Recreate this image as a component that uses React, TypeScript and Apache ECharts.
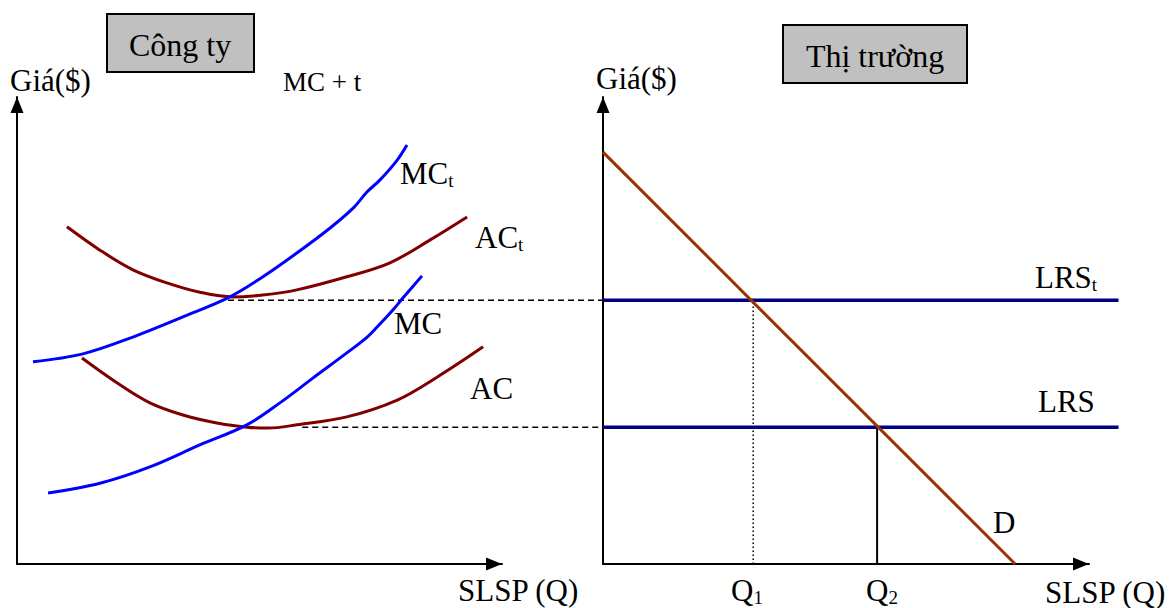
import { useEffect, useRef } from "react";
import * as echarts from "echarts";

// ---- Left panel (Công ty): quantity 0..100, price 0..100 ----
const MC_TAX: [number, number][] = [
  [3.3, 43.3], [13.6, 45.0], [23.9, 48.6], [34.2, 52.9], [43.9, 57.2],
  [50.7, 61.5], [57.7, 66.6], [64.5, 71.9], [69.3, 76.2], [72.2, 79.7],
  [74.8, 82.2], [78.4, 86.5], [80.4, 89.7],
];
const AC_TAX: [number, number][] = [
  [10.3, 72.2], [17.1, 67.2], [23.9, 63.0], [30.9, 60.2], [37.7, 58.2],
  [44.5, 57.2], [50.7, 57.6], [57.7, 58.7], [68.0, 61.5], [76.9, 64.5],
  [85.2, 69.4], [92.8, 74.3],
];
const MC: [number, number][] = [
  [6.4, 15.2], [17.1, 17.3], [27.4, 20.8], [37.7, 25.5], [47.4, 29.8],
  [54.2, 34.5], [61.0, 39.8], [68.0, 45.2], [72.2, 48.6], [74.2, 50.7],
  [77.5, 54.4], [79.6, 57.0], [83.5, 61.7],
];
const AC: [number, number][] = [
  [13.4, 44.1], [20.6, 38.8], [27.4, 34.5], [34.2, 31.9], [41.2, 30.2],
  [47.4, 29.3], [51.8, 29.1], [57.7, 29.8], [68.0, 31.5], [78.4, 35.1],
  [86.6, 40.0], [96.1, 46.5],
];

// price levels shared by both panels
const PRICE_TAX = 56.5;
const PRICE = 29.3;
// dashed guide lines (left-panel quantity units; they run over to the market axis)
const GUIDE_TAX_FROM = 43.5;
const GUIDE_FROM = 58.8;
const GUIDE_TO = 120.8;

// ---- Right panel (Thị trường) ----
const DEMAND: [number, number][] = [[0, 88.2], [84.8, 0]];
const Q1 = 30.9;
const Q2 = 56.4;
const LRS_TO = 106.1;

const FONT = "'Liberation Serif', 'Times New Roman', serif";

export default function App() {
  const ref = useRef<HTMLDivElement>(null);

  useEffect(() => {
    if (!ref.current) return;
    const chart = echarts.init(ref.current, null, { renderer: "svg" });

    const axisLine = {
      show: true,
      onZero: false,
      symbol: ["none", "triangle"],
      symbolSize: [13, 16],
      symbolOffset: [0, -8],
      lineStyle: { color: "#000", width: 2 },
    };
    const visibleAxis = (gridIndex: number) => ({
      type: "value",
      gridIndex,
      min: 0,
      max: 100,
      axisLine,
      axisTick: { show: false },
      axisLabel: { show: false },
      splitLine: { show: false },
    });
    const hiddenAxis = (gridIndex: number, max: number) => ({
      type: "value",
      gridIndex,
      min: 0,
      max,
      show: false,
      splitLine: { show: false },
    });

    const curve = (data: [number, number][], color: string, xi: number) => ({
      type: "line",
      xAxisIndex: xi,
      yAxisIndex: xi,
      data,
      smooth: 0.35,
      showSymbol: false,
      silent: true,
      lineStyle: { color, width: 3 },
    });
    const straight = (
      data: [number, number][],
      color: string,
      width: number,
      type: any,
      xi: number,
      z = 2
    ) => ({
      type: "line",
      xAxisIndex: xi,
      yAxisIndex: xi,
      data,
      showSymbol: false,
      silent: true,
      z,
      lineStyle: { color, width, type },
    });

    const txt = (x: number, y: number, text: string, size = 31, align = "left") => ({
      type: "text",
      x,
      y,
      silent: true,
      style: {
        text,
        fontFamily: FONT,
        fontSize: size,
        fill: "#000",
        align,
        verticalAlign: "middle",
        lineHeight: 34,
        rich: {
          s: { fontFamily: FONT, fontSize: 19, lineHeight: 22, verticalAlign: "bottom", fill: "#000" },
        },
      },
    });

    const option: any = {
      animation: false,
      backgroundColor: "#fff",
      tooltip: { show: false },
      grid: [
        // 0: firm panel, 1: market panel
        { left: 17, top: 97, width: 485, height: 467, outerBoundsMode: "none" },
        { left: 603, top: 97, width: 486, height: 467, outerBoundsMode: "none" },
        // 2: firm units stretched to the market price axis, 3: market units past the arrow
        { left: 17, top: 97, width: 586, height: 467, outerBoundsMode: "none" },
        { left: 603, top: 97, width: 517, height: 467, outerBoundsMode: "none" },
      ],
      xAxis: [visibleAxis(0), visibleAxis(1), hiddenAxis(2, GUIDE_TO), hiddenAxis(3, 106.4)],
      yAxis: [visibleAxis(0), visibleAxis(1), hiddenAxis(2, 100), hiddenAxis(3, 100)],
      series: [
        straight([[GUIDE_TAX_FROM, PRICE_TAX], [GUIDE_TO, PRICE_TAX]], "#000", 1.5, [6, 4], 2, 1),
        straight([[GUIDE_FROM, PRICE], [GUIDE_TO, PRICE]], "#000", 1.5, [6, 4], 2, 1),
        curve(AC_TAX, "#800000", 0),
        curve(AC, "#800000", 0),
        curve(MC_TAX, "#0000ff", 0),
        curve(MC, "#0000ff", 0),
        straight([[Q1, 0], [Q1, PRICE_TAX]], "#000", 1.5, [1.5, 2.5], 1, 1),
        straight([[Q2, 0], [Q2, PRICE]], "#000", 2, "solid", 1, 1),
        straight([[0, PRICE_TAX], [LRS_TO, PRICE_TAX]], "#000080", 3.5, "solid", 3, 2),
        straight([[0, PRICE], [LRS_TO, PRICE]], "#000080", 3.5, "solid", 3, 2),
        straight(DEMAND, "#993300", 3, "solid", 1, 3),
      ],
      graphic: [
        {
          type: "rect",
          silent: true,
          shape: { x: 107, y: 14, width: 147, height: 58 },
          style: { fill: "#c0c0c0", stroke: "#000", lineWidth: 2 },
        },
        {
          type: "rect",
          silent: true,
          shape: { x: 783, y: 25, width: 184, height: 58 },
          style: { fill: "#c0c0c0", stroke: "#000", lineWidth: 2 },
        },
        txt(180, 45, "Công ty", 32, "center"),
        txt(875, 56, "Thị trường", 32, "center"),
        txt(10, 80, "Giá($)"),
        txt(596, 78, "Giá($)"),
        txt(283, 82, "MC + t", 27),
        txt(400, 173, "MC{s|t}"),
        txt(475, 237, "AC{s|t}"),
        txt(394, 323, "MC"),
        txt(470, 388, "AC"),
        txt(458, 590, "SLSP (Q)"),
        txt(1045, 592, "SLSP (Q)"),
        txt(731, 590, "Q{s|1}"),
        txt(866, 590, "Q{s|2}"),
        txt(993, 522, "D"),
        txt(1035, 277, "LRS{s|t}"),
        txt(1038, 401, "LRS"),
      ],
    };

    chart.setOption(option);
    return () => chart.dispose();
  }, []);

  return (
    <div
      ref={ref}
      style={{ position: "absolute", left: 0, top: 0, width: 1170, height: 608, background: "#fff" }}
    />
  );
}
